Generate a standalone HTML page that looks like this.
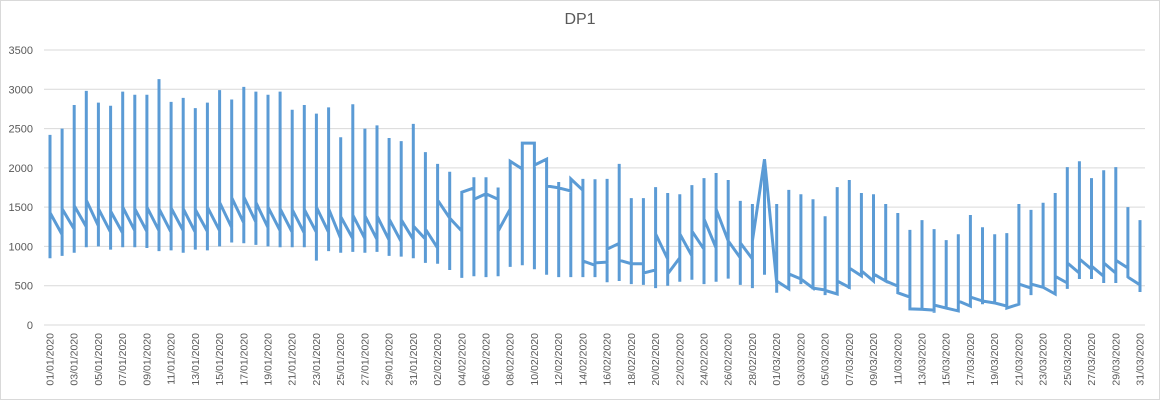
<!DOCTYPE html>
<html><head><meta charset="utf-8"><style>
html,body{margin:0;padding:0;background:#fff}
svg{display:block}
text{font-family:"Liberation Sans",Arial,sans-serif;fill:#595959}
</style></head><body>
<svg id="c" width="1160" height="400" xmlns="http://www.w3.org/2000/svg">
<rect x="0.5" y="0.5" width="1159" height="399" fill="#fff" stroke="#d9d9d9"/>
<text x="580" y="24" font-size="16" text-anchor="middle">DP1</text>
<g id="grid"></g><g id="xl"></g>
<path id="p" fill="none" stroke="#5b9bd5" stroke-width="3" stroke-linejoin="miter"/>
</svg>
<script>
var D=[
[null,2420,850,1430],[1150,2500,880,1480],[1220,2800,920,1520],[1250,2980,990,1590],[1260,2830,1000,1480],
[1180,2790,960,1450],[1170,2970,990,1500],[1200,2930,990,1480],[1190,2930,980,1500],[1200,3130,940,1480],
[1180,2840,950,1490],[1200,2890,920,1480],[1180,2760,960,1470],[1190,2830,950,1500],[1200,2990,1000,1560],
[1240,2870,1050,1620],[1300,3030,1040,1630],[1310,2970,1020,1560],[1240,2930,1000,1500],[1200,2970,990,1480],
[1180,2740,990,1470],[1170,2800,990,1470],[1180,2690,820,1500],[1180,2770,940,1480],[1100,2390,920,1380],
[1100,2810,930,1400],[1100,2500,920,1390],[1090,2540,930,1390],[1080,2380,880,1350],[1060,2340,870,1340],
[1090,2560,850,1260],
[1095,2200,790,1220],[980,2050,780,1590],[1360,1950,700,1360],[1195,1690,600,1690],[1745,1880,620,1600],
[1670,1880,610,1670],[1600,1750,620,1195],[1475,2090,740,2085],[1985,2315,760,2315],[2315,2315,710,2035],
[2110,2110,640,1770],[1745,1820,610,1745],[1705,1860,610,1860],[1715,1860,610,815],[760,1855,610,790],
[800,1860,545,965],[1040,2050,560,825],[780,1615,520,780],[780,1615,510,660],[700,1755,470,1160],
[840,1680,500,650],[855,1665,550,1160],[880,1780,575,1195],[965,1870,520,1350],[980,1935,550,1475],
[1070,1845,590,1070],[855,1580,510,1045],[840,1540,470,1070],[2110,2110,640,2110],
[535,1540,410,560],[460,1720,460,650],[585,1665,520,585],[470,1600,470,470],[445,1385,380,440],
[395,1755,395,560],[480,1845,460,725],[625,1680,625,690],[560,1665,560,650],[560,1540,560,560],
[495,1425,410,410],[355,1210,205,205],[200,1335,200,200],[190,1220,155,255],[215,1080,215,215],
[180,1155,180,305],[240,1400,240,355],[305,1245,265,305],[280,1155,280,280],[240,1170,215,215],
[265,1540,265,520],[470,1465,380,520],[480,1555,480,480],[395,1680,395,620],[535,2010,460,790],
[660,2085,585,840],[710,1870,585,750],[620,1970,535,790],[660,2010,535,825],[725,1500,600,610],
[510,1335,420,null]];
function X(d){return 50+d*12.111}
function Y(v){return 325-v*275/3500}
var s="";D.forEach(function(a,i){var x=X(i).toFixed(1);
a.forEach(function(v){if(v!==null){s+=(s?"L":"M")+x+","+Y(v).toFixed(1);}});});
document.getElementById("p").setAttribute("d",s);
var g="";for(var k=0;k<=7;k++){var y=Y(k*500);
g+='<line x1="44" x2="1145" y1="'+y+'" y2="'+y+'" stroke="#d9d9d9" stroke-width="1"/>';
g+='<text x="33" y="'+(y+4)+'" font-size="11" text-anchor="end">'+(k*500)+'</text>';}
document.getElementById("grid").innerHTML=g;
var lab="",m=[31,29,31],d=0;
for(var mo=0;mo<3;mo++)for(var dd=1;dd<=m[mo];dd++){if(d%2==0){var x=X(d)+3.5;
var t=(dd<10?"0":"")+dd+"/0"+(mo+1)+"/2020";
lab+='<text font-size="10.5" text-anchor="end" transform="translate('+x.toFixed(1)+',333) rotate(-90)">'+t+'</text>';}d++;}
document.getElementById("xl").innerHTML=lab;
</script>
</body></html>
